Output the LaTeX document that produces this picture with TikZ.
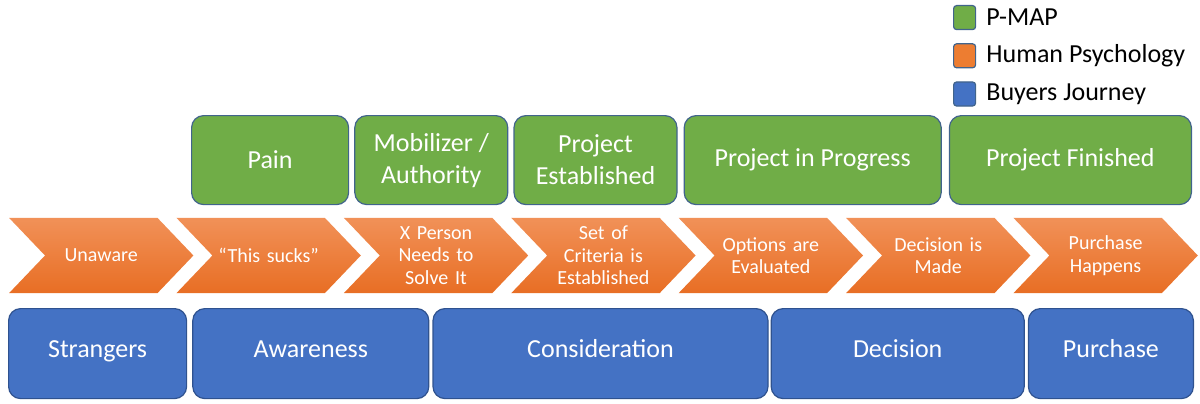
\documentclass[tikz,border=0pt]{standalone}
\usepackage{fontspec}
\setmainfont{Carlito}
\usetikzlibrary{positioning,backgrounds}
\definecolor{pmapGreen}{RGB}{112,173,71}
\definecolor{psyTop}{RGB}{241,145,88}
\definecolor{psyBot}{RGB}{232,110,36}
\definecolor{psyOrange}{RGB}{237,125,49}
\definecolor{journeyBlue}{RGB}{68,114,196}
\definecolor{edgeBlue}{RGB}{47,82,143}
\definecolor{edgeSlate}{RGB}{65,100,140}

\begin{document}
\begin{tikzpicture}[x=1pt,y=-1pt,
  pmap/.style={draw=edgeSlate,line width=1.2pt,fill=pmapGreen,rounded corners=12pt,minimum height=89pt,inner sep=0pt,align=center,text=white,font=\fontsize{26}{32}\selectfont},
  psych/.style={minimum height=75pt,minimum width=184pt,inner sep=0pt,text width=110pt,align=center,text=white,font=\fontsize{20}{22.5}\selectfont},
  stage/.style={draw=edgeBlue,line width=1.2pt,fill=journeyBlue,rounded corners=12pt,minimum height=90pt,inner sep=0pt,text height=0.85em,text depth=0.15em,text=white,font=\fontsize{26}{32}\selectfont},
  keybox/.style={draw=edgeSlate,line width=1.2pt,rounded corners=3pt,minimum width=22pt,minimum height=24pt,inner sep=0pt},
  keytext/.style={anchor=west,inner sep=0pt,font=\fontsize{26}{30}\selectfont}]
\useasboundingbox (0,0) rectangle (1200,404);
% --- legend ---
\node[keybox,fill=pmapGreen,anchor=north west] (keyg) at (953,5) {};
\node[keybox,fill=psyOrange,below=13pt of keyg] (keyo) {};
\node[keybox,fill=journeyBlue,below=13pt of keyo] (keyb) {};
\node[keytext] (keygt) at ([xshift=10pt]keyg.east) {P-MAP};
\node[keytext] (keyot) at ([xshift=10pt]keyo.east) {Human Psychology};
\node[keytext] (keybt) at ([xshift=10pt]keyb.east) {Buyers Journey};
% --- P-MAP row ---
\node[pmap,minimum width=157pt,anchor=north west] (pain) at (191,115) {Pain};
\node[pmap,minimum width=153pt,right=5pt of pain] (mobil) {Mobilizer /\\Authority};
\node[pmap,minimum width=163pt,right=5pt of mobil] (projest) {Project\\Established};
\node[pmap,minimum width=257pt,right=6pt of projest] (projprog) {Project in Progress};
\node[pmap,minimum width=242pt,right=7pt of projprog] (projfin) {Project Finished};
% --- psychology chevrons ---
\node[psych,anchor=west] (unaware) at (9,255.5) {Unaware};
\node[psych,right=-17pt of unaware] (sucks) {``This sucks''};
\node[psych,right=-17pt of sucks] (xperson) {X Person\\Needs to\\Solve It};
\node[psych,right=-17pt of xperson] (criteria) {Set of\\Criteria is\\Established};
\node[psych,right=-17pt of criteria] (options) {Options are\\Evaluated};
\node[psych,right=-17pt of options] (decided) {Decision is\\Made};
\node[psych,right=-17pt of decided] (happens) {Purchase\\Happens};
\begin{scope}[on background layer]
\foreach \c in {unaware,sucks,xperson,criteria,options,decided,happens}
  \shade[top color=psyTop,bottom color=psyBot] (\c.north west) -- ([xshift=-36pt]\c.north east) -- (\c.east)
    -- ([xshift=-36pt]\c.south east) -- (\c.south west) -- ([xshift=36pt]\c.west) -- cycle;
\end{scope}
% --- buyers journey row ---
\node[stage,minimum width=178pt,anchor=north west] (strangers) at (8,308) {Strangers};
\node[stage,minimum width=236pt,right=5pt of strangers] (awareness) {Awareness};
\node[stage,minimum width=335pt,right=3pt of awareness] (consider) {Consideration};
\node[stage,minimum width=253pt,right=2pt of consider] (decision) {Decision};
\node[stage,minimum width=165pt,right=3pt of decision] (purchase) {Purchase};
\end{tikzpicture}
\end{document}
